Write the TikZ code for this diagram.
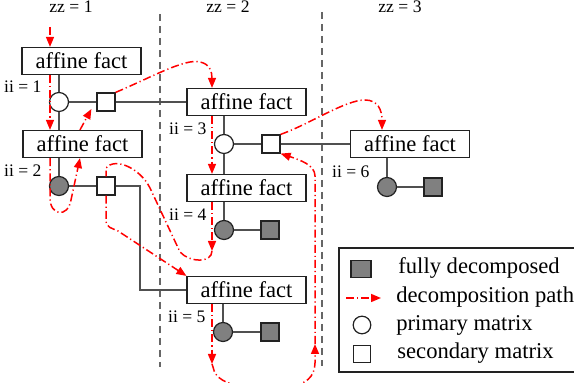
\documentclass[tikz,border=0pt]{standalone}
\usepackage{fontspec}
\setmainfont{Liberation Serif}
\usepackage{tikz}
\usetikzlibrary{arrows.meta,positioning}
\definecolor{ink}{HTML}{222222}
\definecolor{wirecol}{HTML}{505050}
\definecolor{shade}{HTML}{808080}
\definecolor{trace}{HTML}{FF0000}
\definecolor{rule}{HTML}{666666}
\newcommand{\factfont}{\fontsize{11.3}{13}\selectfont}
\newcommand{\tagfont}{\fontsize{8.8}{10}\selectfont}

\begin{document}
\begin{tikzpicture}[
  x=0.5pt, y=-0.5pt,
  fact/.style={draw=ink, fill=white, line width=0.6pt, minimum width=59.5pt,
               minimum height=13.5pt, inner sep=0pt, font=\factfont},
  prim/.style={circle, draw=ink, fill=white, line width=0.6pt, minimum size=9.5pt, inner sep=0pt},
  sec/.style={rectangle, draw=ink, fill=white, line width=0.6pt, minimum size=9pt, inner sep=0pt},
  done/.style={prim, fill=shade},
  donesq/.style={sec, fill=shade},
  conn/.style={draw=wirecol, line width=0.6pt},
  trail/.style={draw=trace, line width=0.75pt, dash pattern=on 4pt off 1.5pt on 0.6pt off 1.5pt,
                -{Triangle[length=5pt,width=4pt]}},
  lane/.style={draw=rule, line width=0.6pt, dash pattern=on 3.5pt off 2.5pt},
  tag/.style={font=\tagfont, inner sep=1pt},
  key/.style={font=\factfont, anchor=west, inner sep=0pt}
]
\useasboundingbox (0,0) rectangle (574,383);

% stage headers and separators
\node[tag, anchor=base] (z1) at (71,12.5) {zz = 1};
\node[tag, anchor=base] (z2) at (228,12.5) {zz = 2};
\node[tag, anchor=base] (z3) at (400,12.5) {zz = 3};
\draw[lane] (160,14) -- (160,367);
\draw[lane] (322,12) -- (322,366);

% factorisation steps
\node[fact] (f1) at (81.5,61) {affine fact};
\node[fact] (f2) at (82.5,144) {affine fact};
\node[fact] (f3) at (246.5,102) {affine fact};
\node[fact] (f4) at (246.5,188) {affine fact};
\node[fact] (f5) at (246.5,290) {affine fact};
\node[fact] (f6) at (410,144) {affine fact};

\node[prim] (c1) at (59,102) {};
\node[sec] (s1) at (106,102) {};
\node[done] (c2) at (59,186) {};
\node[sec] (s2) at (106,186) {};
\node[prim] (c3) at (224,144) {};
\node[sec] (s3) at (271,144) {};
\node[done] (c4) at (224,230) {};
\node[donesq] (s4) at (270,230) {};
\node[done] (c5) at (223,332) {};
\node[donesq] (s5) at (270,332) {};
\node[done] (c6) at (387,187) {};
\node[donesq] (s6) at (433,187) {};

\node[tag, above left=0pt and 4pt of c1] (i1) {ii = 1};
\node[tag, above left=0pt and 4pt of c2] (i2) {ii = 2};
\node[tag, above left=0pt and 4pt of c3] (i3) {ii = 3};
\node[tag, above left=0pt and 4pt of c4] (i4) {ii = 4};
\node[tag, above left=0pt and 4pt of c5] (i5) {ii = 5};
\node[tag, above left=0pt and 4pt of c6] (i6) {ii = 6};

\draw[conn] (f1.south -| c1) -- (c1) -- (f2.north -| c1);
\draw[conn] (c1) -- (s1) -- (f3);
\draw[conn] (f2.south -| c2) -- (c2) -- (s2);
\coordinate (elbow) at (140,290);
\draw[conn] (s2) -| (elbow) -- (f5);
\draw[conn] (f3.south -| c3) -- (c3) -- (f4.north -| c3);
\draw[conn] (c3) -- (s3) -- (f6);
\draw[conn] (f4.south -| c4) -- (c4) -- (s4);
\draw[conn] (f5.south -| c5) -- (c5) -- (s5);
\draw[conn] (f6.south -| c6) -- (c6) -- (s6);

% decomposition path
\coordinate (col1) at (50,0);
\coordinate (col1b) at (80,0);
\coordinate (col2) at (212,0);
\coordinate (col3) at (382,0);
\coordinate (start) at (50,27);
\coordinate (turn4) at (212,251);
\coordinate (turn5) at (212,364);
\coordinate (turn6) at (315,344);

\draw[trail] (start) -- (f1.north -| col1);
\draw[trail] (f1.south -| col1) -- (f2.north -| col1);
\draw[trail] (f2.south -| col1) -- (50,198) .. controls (50,216) and (68,218) .. (71,200) -- (f2.south -| col1b);
\draw[trail] (f2.north -| col1b) -- ([xshift=-2.5pt,yshift=-3.5pt]s1.west);
\draw[trail] (s1.north east) .. controls (150,78) and (185,58) .. (200,62)
  .. controls (210,64) and (212,72) .. (f3.north -| col2);
\draw[trail] (f3.south -| col2) -- (f4.north -| col2);
\draw[trail] (f4.south -| col2) -- (turn4);
\draw[trail, -] (turn4) .. controls (212,263) and (190,263) .. (180,252) -- (150,188)
  .. controls (140,168) and (115,157) .. (106,168) -- (s2.north);
\draw[trail] (s2.south) -- (106,220) .. controls (106,228) and (112,228) .. (118,231) -- (f5.north west);
\draw[trail] (f5.south -| col2) -- (turn5);
\draw[trail] (turn5) -- (213,367) .. controls (215,379) and (228,385) .. (245,386) -- (290,386)
  .. controls (305,385) and (315,377) .. (315,363) -- (turn6);
\draw[trail] (turn6) -- (315,176) .. controls (315,165) and (300,160) .. (s3.south east);
\draw[trail] (s3.north east) .. controls (310,124) and (345,100) .. (365,100)
  .. controls (378,100) and (382,110) .. (f6.north -| col3);

% legend
\draw[draw=ink, line width=0.6pt] (339,248) rectangle (600,372);
\node[donesq, minimum width=10pt, minimum height=8.5pt] (k1) at (361,269) {};
\node[key] (t1) at (398,268) {fully decomposed};
\coordinate (ka) at (346,298);
\coordinate (kb) at (381,298);
\draw[trail] (ka) -- (kb);
\node[key] (t2) at (396,297) {decomposition path};
\node[prim, minimum size=8.8pt] (k3) at (362,325) {};
\node[key] (t3) at (396,325) {primary matrix};
\node[sec, minimum size=8.8pt] (k4) at (362,354) {};
\node[key] (t4) at (397,353) {secondary matrix};
\end{tikzpicture}
\end{document}
